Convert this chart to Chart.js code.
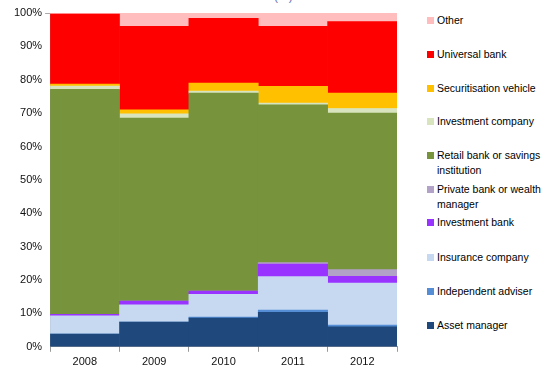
<!DOCTYPE html>
<html>
<head>
<meta charset="utf-8">
<script src="https://cdn.jsdelivr.net/npm/chart.js@4"></script>
<style>
  body { margin: 0; background: #fff; font-family: "Liberation Sans", Arial, sans-serif; }
  #wrap { position: absolute; left: 0; top: 0; width: 400px; height: 367px; }
  #legend { position: absolute; left: 427px; top: 0; width: 117px; font-size: 10.5px; color: #000; }
  .item { position: absolute; left: 0; display: flex; align-items: flex-start; line-height: 15px; }
  .sw { width: 7px; height: 7px; margin: 4px 3px 0 0; flex: none; }
  #title { position: absolute; left: 274px; top: -11px; font-size: 12px; color: #6d74b8; }
</style>
</head>
<body>
<div id="title">(%)</div>
<div id="wrap"><canvas id="chart"></canvas></div>
<div id="legend"></div>
<script>
// Categories
const years = ["2008", "2009", "2010", "2011", "2012"];
const yTicks = [0, 10, 20, 30, 40, 50, 60, 70, 80, 90, 100];

// Series values (% share), bottom of stack first
const assetManager       = [3.8, 7.4, 8.6, 10.3, 6.0];
const independentAdviser = [0.0, 0.0, 0.3, 0.7, 0.5];
const insuranceCompany   = [5.5, 5.2, 6.8, 10.0, 12.6];
const investmentBank     = [0.4, 1.1, 1.0, 3.8, 2.0];
const privateBank        = [0.0, 0.0, 0.0, 0.4, 2.0];
const retailBank         = [67.4, 54.8, 59.3, 47.3, 46.9];
const investmentCompany  = [1.0, 1.3, 0.6, 0.5, 1.4];
const securitisation     = [0.6, 1.2, 2.4, 5.0, 4.6];
const universalBank      = [21.0, 25.0, 19.4, 18.0, 21.4];
const other              = [0.3, 4.0, 1.6, 4.0, 2.6];

const series = [
  { label: "Asset manager", data: assetManager, color: "#1F497D" },
  { label: "Independent adviser", data: independentAdviser, color: "#558ED5" },
  { label: "Insurance company", data: insuranceCompany, color: "#C6D9F1" },
  { label: "Investment bank", data: investmentBank, color: "#9933FF" },
  { label: "Private bank or wealth\nmanager", data: privateBank, color: "#B3A2C7" },
  { label: "Retail bank or savings\ninstitution", data: retailBank, color: "#77933C" },
  { label: "Investment company", data: investmentCompany, color: "#D7E4BD" },
  { label: "Securitisation vehicle", data: securitisation, color: "#FFC000" },
  { label: "Universal bank", data: universalBank, color: "#FF0000" },
  { label: "Other", data: other, color: "#FFBDBD" }
];

// Legend (top = last series)
const legendTops = [13, 47, 81, 114, 148, 182, 215, 250, 284, 318];
const legend = document.getElementById("legend");
series.slice().reverse().forEach(function (s, i) {
  const item = document.createElement("div");
  item.className = "item";
  item.style.top = legendTops[i] + "px";
  const sw = document.createElement("div");
  sw.className = "sw";
  sw.style.background = s.color;
  const txt = document.createElement("div");
  txt.innerHTML = s.label.replace("\n", "<br>");
  item.appendChild(sw);
  item.appendChild(txt);
  legend.appendChild(item);
});

Chart.defaults.font.family = '"Liberation Sans", Arial, sans-serif';
Chart.defaults.font.size = 11;
Chart.defaults.color = "#111";

new Chart(document.getElementById("chart"), {
  type: "bar",
  data: {
    labels: years,
    datasets: series.map(function (s) {
      return {
        label: s.label,
        data: s.data,
        backgroundColor: s.color,
        borderWidth: 0,
        barPercentage: 1,
        categoryPercentage: 1
      };
    })
  },
  options: {
    responsive: true,
    maintainAspectRatio: false,
    animation: false,
    layout: { padding: { top: 13, right: 3, bottom: -6, left: 11 } },
    plugins: { legend: { display: false }, tooltip: { enabled: false } },
    scales: {
      x: {
        stacked: true,
        grid: { display: true, drawOnChartArea: false, color: "#999", tickLength: 5, offset: true },
        border: { color: "#999" },
        ticks: { padding: 4 }
      },
      y: {
        stacked: true,
        min: 0,
        max: 100,
        afterBuildTicks: function (axis) {
          axis.ticks = yTicks.map(function (v) { return { value: v }; });
        },
        grid: {
          drawOnChartArea: true,
          tickLength: 5,
          color: function (ctx) { return ctx.tick && ctx.tick.value === 100 ? "#aaa" : "rgba(0,0,0,0)"; }
        },
        border: { color: "#999" },
        ticks: {
          padding: 3,
          callback: function (v) { return v + "%"; }
        }
      }
    }
  }
});
</script>
</body>
</html>
